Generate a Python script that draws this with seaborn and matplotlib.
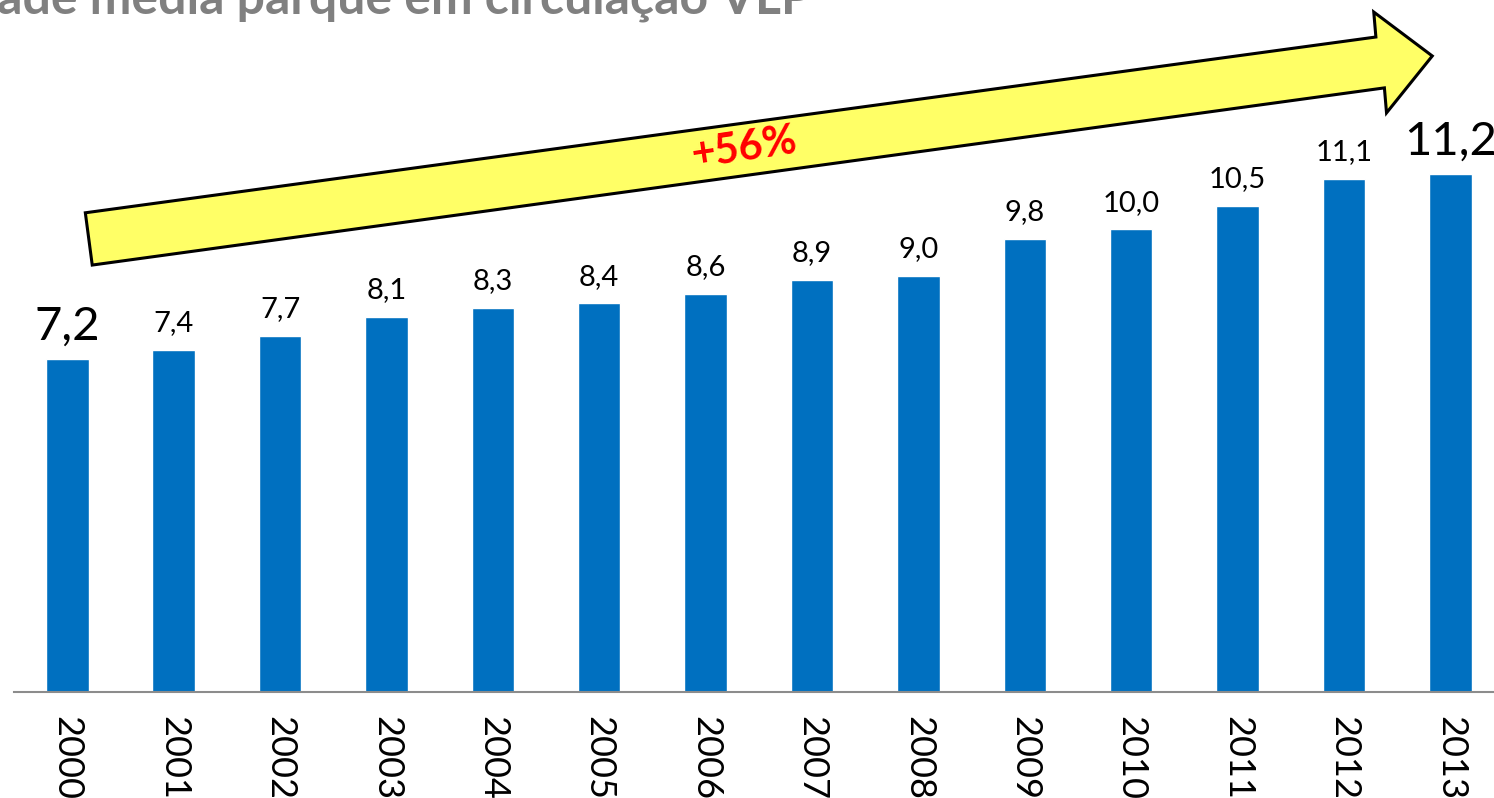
import numpy as np
import matplotlib.pyplot as plt
import seaborn as sns
from matplotlib.patches import Polygon

# Data
years = ["2000", "2001", "2002", "2003", "2004", "2005", "2006",
         "2007", "2008", "2009", "2010", "2011", "2012", "2013"]
idade = [7.2, 7.4, 7.7, 8.1, 8.3, 8.4, 8.6, 8.9, 9.0, 9.8, 10.0, 10.5, 11.1, 11.2]
title = "Idade média parque em circulação VLP"
growth_label = "+56%"

sns.set_style("white")
plt.rcParams['font.family'] = ['Lato', 'DejaVu Sans']

fig = plt.figure(figsize=(14.94, 7.98), dpi=100)
ax = fig.add_axes([0.0094, 0.1328, 0.997, 0.8672])

sns.barplot(x=years, y=idade, color="#0070C0", width=0.4, saturation=1, ax=ax)

ax.set_xlim(-0.5, len(years) - 0.5)
ax.set_ylim(0, 14.96)
ax.set_xlabel("")
ax.set_ylabel("")
ax.set_yticks([])
for s in ["top", "right", "left"]:
    ax.spines[s].set_visible(False)
ax.spines["bottom"].set_color("#8c8c8c")
ax.spines["bottom"].set_linewidth(1.5)

# tick marks between categories, labels centred
ax.set_xticks(range(len(years)))
ax.set_xticklabels(years, rotation=270, fontsize=26, va="top", ha="center", color="black")
ax.tick_params(axis="x", which="major", length=0, pad=17)
ax.set_xticks(np.arange(-0.5, len(years), 1.0), minor=True)
ax.tick_params(axis="x", which="minor", length=7, width=1.5, color="#8c8c8c", direction="out")

# value labels (comma decimal)
for i, v in enumerate(idade):
    big = i == 0 or i == len(idade) - 1
    ax.annotate(f"{v:.1f}".replace(".", ","), (i, v), xytext=(0, 8 if big else 10),
                textcoords="offset points", ha="center", va="bottom",
                fontsize=34 if big else 21, color="black")

# growth arrow (data coordinates)
arrow = Polygon([(0.17, 10.36), (12.30, 14.16), (12.28, 14.70), (12.83, 13.75),
                 (12.40, 12.52), (12.38, 13.06), (0.235, 9.23)],
                closed=True, facecolor="#FFFF66", edgecolor="black", linewidth=2.2,
                clip_on=False, zorder=5)
ax.add_patch(arrow)
ax.text(6.36, 11.76, growth_label, color="red", fontsize=30, fontweight="bold",
        rotation=8.5, ha="center", va="center", zorder=6)

# title, partly outside the canvas as in the source
fig.text(812 / 1494, 1 - 13 / 798, title, ha="right", va="baseline",
         fontsize=36, fontweight="bold", color="#808080")

fig.savefig("out.png", dpi=100)
